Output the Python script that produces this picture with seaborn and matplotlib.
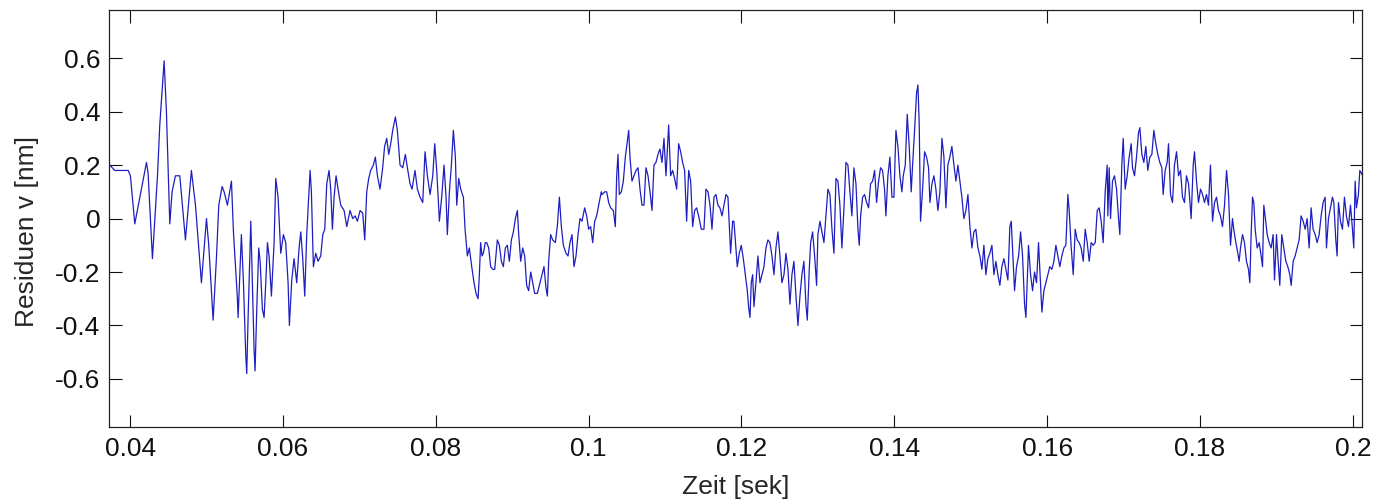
import numpy as np
import pandas as pd
import matplotlib
matplotlib.use("Agg")
import matplotlib.pyplot as plt
import seaborn as sns

# Residuen (time in ms, residual in nm)
zeit_ms = [
    37.00, 37.34, 37.99, 38.65, 39.74, 40.04, 40.61, 42.14, 42.35, 42.92,
    43.58, 43.88, 44.45, 44.75, 45.19, 45.49, 45.93, 46.50, 47.24, 48.02,
    48.55, 49.33, 49.99, 50.29, 50.86, 51.29, 51.60, 52.04, 52.30,
    52.73, 53.26, 53.52, 54.04, 54.13, 54.48, 54.56, 54.83, 55.13, 55.26,
    55.44, 55.79, 56.00, 56.22, 56.35, 56.57, 56.83, 57.01, 57.31, 57.53,
    57.75, 57.97, 58.18, 58.49, 58.84, 59.06, 59.36, 59.71, 60.06, 60.36,
    60.67, 60.84, 61.15, 61.45, 61.80, 62.11, 62.33, 62.59, 62.85, 63.11,
    63.29, 63.55, 63.72, 63.98, 64.29, 64.59, 64.94, 65.21, 65.47, 65.73,
    66.03, 66.25, 66.47, 66.69, 66.95, 67.21, 67.56, 68.00, 68.35,
    68.78, 69.13, 69.45, 69.74, 70.09, 70.44, 70.70, 70.96, 71.22, 71.48,
    71.83, 72.09, 72.36, 72.70, 73.05, 73.30, 73.58, 73.84, 74.10, 74.36,
    74.71, 74.97, 75.32, 75.67, 76.02, 76.28, 76.63, 76.89, 77.28, 77.59,
    77.94, 78.29, 78.59, 78.90, 79.25, 79.60, 79.86, 80.12, 80.47, 80.77,
    81.08, 81.34, 81.51, 81.78, 82.04, 82.30, 82.56, 82.74, 83.00, 83.26,
    83.61, 83.83, 84.13, 84.39, 84.70, 85.00,
    85.26, 85.53, 85.70, 85.87, 86.05, 86.22, 86.48, 86.66, 86.92, 87.18,
    87.44, 87.71, 88.05, 88.32, 88.58, 88.84, 89.10, 89.36, 89.62, 89.89,
    90.15, 90.41, 90.67, 90.85, 91.11, 91.37, 91.63, 91.89, 92.15, 92.42,
    92.68, 92.94, 93.29, 93.64, 93.90, 94.16, 94.42, 94.60, 94.77, 95.03,
    95.29, 95.64, 95.90, 96.17, 96.43, 96.69, 97.04, 97.30, 97.56, 97.82,
    98.08, 98.35, 98.61, 98.87, 99.13, 99.48, 99.74, 100.00, 100.26, 100.53,
    100.79, 101.05, 101.31, 101.66,
    101.75, 102.10, 102.36, 102.62, 102.88, 103.23, 103.49, 103.67, 103.84, 104.01,
    104.28, 104.54, 104.80, 105.06, 105.24, 105.41, 105.67, 105.93, 106.20, 106.46,
    106.72, 106.98, 107.24, 107.50, 107.77, 108.03, 108.29, 108.55, 108.81, 109.07,
    109.33, 109.60, 109.86, 110.12, 110.47, 110.73, 110.99, 111.25, 111.52, 111.78,
    112.04, 112.30, 112.56, 112.82, 113.09, 113.35, 113.61, 113.87, 114.13, 114.39,
    114.74, 115.09, 115.35, 115.62, 115.88, 116.14, 116.40, 116.66, 116.92, 117.18,
    117.45, 117.71, 117.97, 118.23,
    118.40, 118.58, 118.84, 119.01, 119.19, 119.45, 119.71, 119.97, 120.24, 120.50,
    120.76, 120.93, 121.11, 121.28, 121.46, 121.63, 121.89, 122.15, 122.42, 122.68,
    122.94, 123.20, 123.46, 123.72, 123.99, 124.25, 124.51, 124.77, 125.03, 125.29,
    125.56, 125.82, 126.08, 126.34, 126.60, 126.86, 127.13, 127.39, 127.65, 127.91,
    128.17, 128.43, 128.61, 128.87, 129.05, 129.31, 129.57, 129.83, 130.00, 130.27,
    130.53, 130.79, 131.05, 131.31, 131.57, 131.84, 132.10, 132.36, 132.62, 132.88,
    133.14, 133.41, 133.67, 133.93, 134.19, 134.45,
    134.71, 134.98, 135.24, 135.41, 135.59, 135.85, 136.11, 136.37, 136.63, 136.89,
    137.16, 137.42, 137.68, 137.94, 138.20, 138.46, 138.72, 138.90, 139.16, 139.42,
    139.69, 139.95, 140.21, 140.47, 140.73, 140.99, 141.17, 141.43, 141.69, 141.95,
    142.21, 142.39, 142.65, 142.91, 143.09, 143.26, 143.43, 143.70, 143.96, 144.22,
    144.48, 144.66, 144.92, 145.18, 145.44, 145.70, 145.96, 146.23, 146.49, 146.75,
    147.01, 147.27, 147.53, 147.80, 148.06, 148.32, 148.58, 148.84, 149.10, 149.37,
    149.63, 149.89, 150.15, 150.41, 150.67, 150.94,
    151.20, 151.46, 151.72, 151.98, 152.24, 152.50, 152.77, 153.03, 153.29, 153.55,
    153.81, 154.07, 154.34, 154.60, 154.86, 155.12, 155.30, 155.47, 155.73, 155.99,
    156.26, 156.52, 156.78, 157.04, 157.22, 157.39, 157.56, 157.83, 158.09, 158.35,
    158.61, 158.87, 159.13, 159.31, 159.57, 159.83, 160.09, 160.35, 160.62, 160.88,
    161.14, 161.40, 161.66, 161.92, 162.19, 162.45, 162.71, 162.88, 163.15, 163.41,
    163.67, 163.93, 164.19, 164.45, 164.72, 164.98, 165.24, 165.50, 165.76, 166.02,
    166.29, 166.55, 166.81, 167.07, 167.33, 167.59, 167.86,
    167.94, 168.12, 168.29, 168.55, 168.81, 169.08, 169.34, 169.51, 169.77, 169.95,
    170.21, 170.47, 170.73, 170.99, 171.17, 171.43, 171.69, 171.95, 172.13, 172.39,
    172.65, 172.91, 173.17, 173.44, 173.70, 173.96, 174.22, 174.48, 174.74, 175.01,
    175.18, 175.44, 175.70, 175.88, 176.14, 176.40, 176.66, 176.93, 177.19, 177.45,
    177.71, 177.97, 178.23, 178.50, 178.84, 179.11, 179.28, 179.54, 179.80, 180.07,
    180.33, 180.59, 180.85, 181.11, 181.37, 181.64, 181.90, 182.16, 182.42, 182.68,
    182.94, 183.21, 183.47, 183.73, 183.99, 184.25,
    184.42, 184.69, 184.95, 185.12, 185.30, 185.56, 185.82, 186.08, 186.34, 186.52,
    186.69, 186.87, 187.04, 187.22, 187.48, 187.74, 188.00, 188.18, 188.35, 188.52,
    188.79, 189.05, 189.31, 189.57, 189.75, 190.01, 190.18, 190.44, 190.70, 190.97,
    191.23, 191.49, 191.75, 191.93, 192.19, 192.45, 192.71, 192.97, 193.23, 193.50,
    193.76, 194.02, 194.28, 194.54, 194.80, 195.07, 195.33, 195.59, 195.85, 196.11,
    196.37, 196.55, 196.81, 197.07, 197.33, 197.51, 197.77, 197.94, 198.12, 198.38,
    198.64, 198.90, 199.16, 199.43, 199.69, 199.95, 200.12, 200.30, 200.47, 200.73,
    200.91, 201.30,
]

residuen_nm = [
    0.19, 0.20, 0.18, 0.18, 0.18, 0.16, -0.02, 0.21, 0.17, -0.15,
    0.16, 0.35, 0.59, 0.40, -0.02, 0.10, 0.16, 0.16, -0.08, 0.18,
    0.05, -0.24, 0.00, -0.10, -0.38, -0.15, 0.05, 0.12, 0.10,
    0.05, 0.14, -0.05, -0.30, -0.37, -0.11, -0.06, -0.24, -0.51, -0.58,
    -0.37, -0.01, -0.24, -0.49, -0.57, -0.34, -0.11, -0.16, -0.34, -0.37,
    -0.24, -0.09, -0.14, -0.29, -0.09, 0.15, 0.08, -0.13, -0.06, -0.09,
    -0.24, -0.40, -0.23, -0.15, -0.24, -0.11, -0.05, -0.15, -0.29, -0.06,
    0.04, 0.18, 0.10, -0.18, -0.13, -0.16, -0.14, -0.06, -0.04, 0.13,
    0.18, 0.11, -0.04, 0.08, 0.16, 0.11, 0.05, 0.03, -0.03,
    0.03, 0.00, 0.01, -0.01, 0.03, 0.02, -0.08, 0.10, 0.15, 0.18,
    0.20, 0.23, 0.16, 0.11, 0.19, 0.27, 0.30, 0.24, 0.28, 0.33,
    0.38, 0.33, 0.20, 0.19, 0.24, 0.19, 0.13, 0.11, 0.18, 0.11,
    0.08, 0.06, 0.25, 0.16, 0.09, 0.16, 0.28, 0.18, -0.01, 0.08,
    0.20, 0.08, -0.06, 0.10, 0.20, 0.33, 0.23, 0.05, 0.15, 0.11,
    0.08, -0.04, -0.14, -0.11, -0.18, -0.24,
    -0.28, -0.30, -0.21, -0.09, -0.14, -0.13, -0.09, -0.09, -0.11, -0.18,
    -0.19, -0.19, -0.08, -0.10, -0.16, -0.18, -0.11, -0.10, -0.16, -0.08,
    -0.05, 0.00, 0.03, -0.06, -0.16, -0.11, -0.14, -0.25, -0.27, -0.20,
    -0.24, -0.28, -0.28, -0.24, -0.21, -0.18, -0.26, -0.29, -0.16, -0.06,
    -0.08, -0.09, -0.03, 0.08, -0.03, -0.10, -0.13, -0.14, -0.09, -0.06,
    -0.18, -0.14, -0.06, 0.00, -0.01, 0.04, 0.01, -0.04, -0.03, -0.09,
    -0.01, 0.01, 0.05, 0.10,
    0.09, 0.10, 0.10, 0.06, 0.04, 0.03, -0.03, 0.16, 0.24, 0.09,
    0.10, 0.14, 0.23, 0.29, 0.33, 0.23, 0.14, 0.16, 0.18, 0.19,
    0.11, 0.05, 0.05, 0.19, 0.16, 0.10, 0.03, 0.20, 0.21, 0.24,
    0.26, 0.21, 0.30, 0.16, 0.35, 0.16, 0.18, 0.15, 0.11, 0.28,
    0.25, 0.21, 0.18, -0.01, 0.18, 0.14, -0.03, 0.03, 0.04, 0.01,
    -0.04, -0.04, 0.11, 0.10, 0.05, -0.04, 0.08, 0.09, 0.05, 0.04,
    0.01, 0.05, 0.09, 0.08,
    -0.02, -0.13, -0.01, -0.01, -0.08, -0.18, -0.13, -0.10, -0.15, -0.21,
    -0.27, -0.33, -0.37, -0.24, -0.21, -0.33, -0.24, -0.14, -0.24, -0.21,
    -0.18, -0.11, -0.08, -0.09, -0.14, -0.21, -0.11, -0.05, -0.14, -0.24,
    -0.21, -0.13, -0.19, -0.32, -0.21, -0.16, -0.29, -0.40, -0.29, -0.21,
    -0.16, -0.32, -0.38, -0.19, -0.09, -0.05, -0.14, -0.25, -0.06, -0.01,
    -0.05, -0.09, 0.01, 0.11, 0.09, -0.04, -0.13, 0.15, 0.14, 0.05,
    -0.11, 0.04, 0.21, 0.20, 0.10, 0.01,
    0.19, 0.13, -0.04, -0.10, 0.01, 0.08, 0.09, 0.06, 0.04, 0.13,
    0.14, 0.18, 0.06, 0.14, 0.19, 0.18, 0.11, 0.01, 0.16, 0.23,
    0.08, 0.08, 0.33, 0.27, 0.16, 0.10, 0.16, 0.20, 0.39, 0.27,
    0.10, 0.20, 0.33, 0.47, 0.50, 0.35, -0.01, 0.11, 0.25, 0.23,
    0.19, 0.06, 0.13, 0.16, 0.11, 0.03, 0.10, 0.30, 0.23, 0.04,
    0.20, 0.23, 0.27, 0.20, 0.14, 0.20, 0.14, 0.08, 0.00, 0.03,
    0.09, -0.03, -0.11, -0.05, -0.04, -0.11,
    -0.14, -0.19, -0.10, -0.21, -0.15, -0.13, -0.10, -0.21, -0.16, -0.21,
    -0.25, -0.18, -0.15, -0.19, -0.23, -0.03, -0.01, -0.11, -0.27, -0.18,
    -0.14, -0.05, -0.14, -0.32, -0.37, -0.24, -0.10, -0.21, -0.27, -0.20,
    -0.24, -0.09, -0.24, -0.35, -0.27, -0.24, -0.21, -0.18, -0.19, -0.16,
    -0.10, -0.14, -0.18, -0.14, -0.11, -0.10, 0.09, 0.03, -0.11, -0.21,
    -0.04, -0.08, -0.09, -0.11, -0.16, -0.04, -0.09, -0.16, -0.09, -0.10,
    -0.09, 0.03, 0.04, -0.01, -0.09, 0.10, 0.20,
    0.01, 0.19, 0.00, 0.14, 0.16, 0.11, 0.00, -0.06, 0.20, 0.30,
    0.11, 0.16, 0.23, 0.28, 0.19, 0.16, 0.23, 0.32, 0.34, 0.24,
    0.21, 0.27, 0.18, 0.23, 0.24, 0.33, 0.28, 0.24, 0.21, 0.19,
    0.09, 0.18, 0.21, 0.28, 0.09, 0.06, 0.20, 0.25, 0.16, 0.18,
    0.08, 0.06, 0.16, 0.13, 0.00, 0.20, 0.25, 0.14, 0.06, 0.11,
    0.09, 0.06, 0.09, 0.05, 0.20, -0.01, 0.06, 0.08, 0.03, 0.01,
    -0.03, 0.05, 0.18, 0.09, -0.10, 0.00,
    -0.04, -0.09, -0.13, -0.16, -0.11, -0.06, -0.09, -0.16, -0.19, -0.24,
    -0.06, 0.08, 0.06, -0.04, -0.11, -0.09, -0.14, -0.18, 0.05, 0.01,
    -0.06, -0.09, -0.11, -0.06, -0.23, -0.06, -0.14, -0.25, -0.06, -0.11,
    -0.16, -0.18, -0.21, -0.25, -0.16, -0.14, -0.11, -0.08, 0.01, -0.01,
    -0.04, 0.00, -0.11, 0.04, -0.04, -0.06, -0.09, -0.06, 0.01, 0.06,
    0.08, -0.11, 0.00, 0.04, 0.08, 0.06, -0.08, -0.14, 0.06, -0.01,
    -0.04, 0.08, 0.01, -0.03, 0.05, -0.04, -0.11, 0.14, 0.04, 0.09,
    0.18, 0.16,
]

x_ticks = [0.04, 0.06, 0.08, 0.10, 0.12, 0.14, 0.16, 0.18, 0.20]
x_tick_labels = ["0.04", "0.06", "0.08", "0.1", "0.12", "0.14", "0.16", "0.18", "0.2"]
y_ticks = [-0.6, -0.4, -0.2, 0.0, 0.2, 0.4, 0.6]
y_tick_labels = ["-0.6", "-0.4", "-0.2", "0", "0.2", "0.4", "0.6"]

assert len(zeit_ms) == len(residuen_nm)

df = pd.DataFrame({"Zeit": np.array(zeit_ms) / 1000.0, "Residuen": residuen_nm})

sns.set_style("ticks")
plt.rcParams["font.family"] = ["Liberation Sans", "DejaVu Sans"]

fig = plt.figure(figsize=(13.78, 5.03), dpi=100)
ax = fig.add_axes([0.0789, 0.151, 0.9095, 0.829])

sns.lineplot(data=df, x="Zeit", y="Residuen", estimator=None, sort=False,
             color="#1e1ec0", linewidth=0.9, ax=ax)

ax.set_xlim(0.0372, 0.2012)
ax.set_ylim(-0.78, 0.78)
ax.set_xticks(x_ticks)
ax.set_xticklabels(x_tick_labels)
ax.set_yticks(y_ticks)
ax.set_yticklabels(y_tick_labels)

ax.tick_params(direction="in", length=9, width=0.8, top=True, right=True,
               labelsize=19, colors="#111111")
ax.tick_params(axis="x", pad=7)
ax.tick_params(axis="y", pad=6)
for sp in ax.spines.values():
    sp.set_visible(True)
    sp.set_color("#222222")
    sp.set_linewidth(0.9)

ax.set_xlabel("Zeit [sek]", fontsize=19)
ax.set_ylabel("Residuen v [nm]", fontsize=19)
ax.xaxis.set_label_coords(0.5, -0.115)
ax.yaxis.set_label_coords(-0.056, 0.47)

fig.savefig("out.png", dpi=100)
